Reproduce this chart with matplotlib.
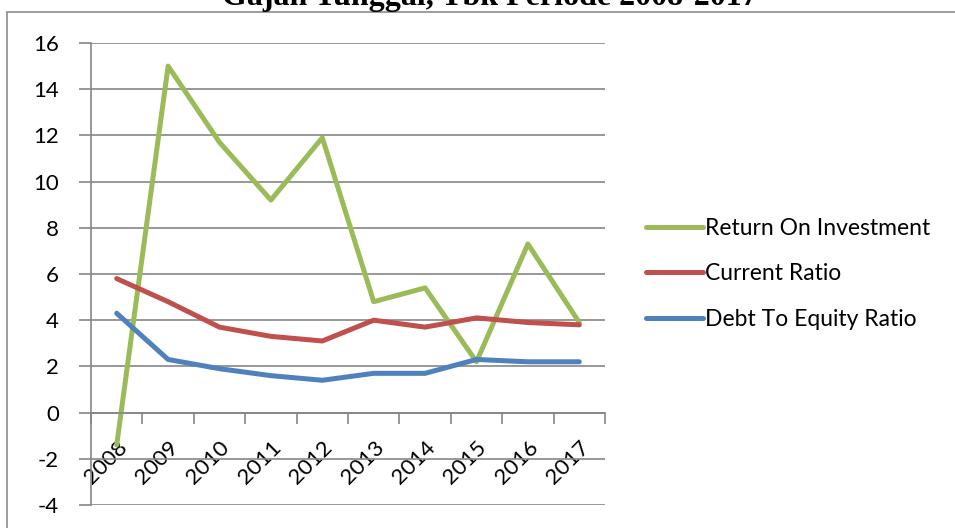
import matplotlib
matplotlib.use("Agg")
import matplotlib.pyplot as plt
from matplotlib.patches import Rectangle

# data
years = ["2008", "2009", "2010", "2011", "2012", "2013", "2014", "2015", "2016", "2017"]
roi = [-1.4, 15.0, 11.7, 9.2, 11.9, 4.8, 5.4, 2.2, 7.3, 3.9]
current_ratio = [5.8, 4.8, 3.7, 3.3, 3.1, 4.0, 3.7, 4.1, 3.9, 3.8]
der = [4.3, 2.3, 1.9, 1.6, 1.4, 1.7, 1.7, 2.3, 2.2, 2.2]
y_ticks = [-4, -2, 0, 2, 4, 6, 8, 10, 12, 14, 16]

plt.rcParams['font.family'] = ['Lato', 'DejaVu Sans']

W, H = 955, 528
fig = plt.figure(figsize=(W / 100, H / 100), dpi=100)

# outer chart frame (bottom and right go past the picture)
fig.patches.append(Rectangle((7 / W, -0.1), 1.2, 1.1 - 12 / H, transform=fig.transFigure,
                             fill=False, edgecolor="#8c8c8c", linewidth=1.2))

fig.text(490 / W, 1 - 5 / H, "Gajah Tunggal, Tbk Periode 2008-2017", ha="center", va="baseline",
         family="Liberation Serif", fontweight="bold", fontsize=23)

ax = fig.add_axes([91 / W, 23 / H, (605 - 91) / W, (505 - 43) / H])
x = list(range(len(years)))
ax.plot(x, roi, color="#9BBB59", lw=3.6, label="Return On Investment", solid_capstyle="round")
ax.plot(x, current_ratio, color="#C0504D", lw=3.6, label="Current Ratio", solid_capstyle="round")
ax.plot(x, der, color="#4F81BD", lw=3.6, label="Debt To Equity Ratio", solid_capstyle="round")

ax.set_xlim(-0.5, len(years) - 0.5)
ax.set_ylim(-4, 16)
ax.set_yticks(y_ticks)
ax.set_yticklabels([str(v) for v in y_ticks], fontsize=16)
ax.grid(axis="y", color="#868686", lw=1.2)
ax.set_axisbelow(True)

# category axis crosses at zero, ticks between categories
ax.spines["bottom"].set_position(("data", 0))
for s in ["top", "right"]:
    ax.spines[s].set_visible(False)
ax.spines["bottom"].set_color("#868686")
ax.spines["left"].set_color("#868686")
ax.spines["bottom"].set_linewidth(1.2)
ax.spines["left"].set_linewidth(1.2)
ax.set_xticks([i - 0.5 for i in range(len(years) + 1)])
ax.set_xticklabels([])
ax.tick_params(axis="x", which="major", direction="out", length=8, color="#868686", width=1.2)
ax.set_xticks(x, minor=True)
ax.set_xticklabels(years, minor=True, rotation=45, ha="right", rotation_mode="anchor", fontsize=16)
ax.tick_params(axis="x", which="minor", length=0, pad=18)
ax.tick_params(axis="y", direction="out", length=9, color="#868686", width=1.2, pad=14)

fig.legend(loc="center left", bbox_to_anchor=(625 / W, 1 - 274 / H), frameon=False,
           fontsize=16.5, handlelength=2.5, handletextpad=0.1, labelspacing=1.05)

fig.savefig("out.png", dpi=100)
